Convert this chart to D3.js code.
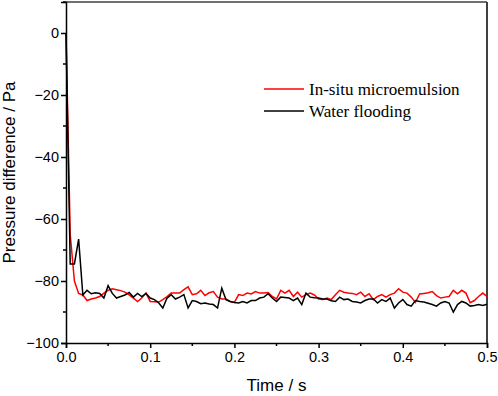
<!DOCTYPE html>
<html>
<head>
<meta charset="utf-8">
<script src="https://cdn.jsdelivr.net/npm/d3@7"></script>
<style>
  body { margin: 0; background: #fff; }
  svg { display: block; }
  .tick text { font-family: "Liberation Sans", Arial, sans-serif; font-size: 14.5px; fill: #000; }
</style>
</head>
<body>
<svg id="chart"></svg>
<script>
// Sample times (s)
const time = [
  0.000, 0.005, 0.010, 0.015, 0.020, 0.025, 0.030, 0.035, 0.040, 0.045,
  0.050, 0.055, 0.060, 0.065, 0.070, 0.075, 0.080, 0.085, 0.090, 0.095,
  0.100, 0.105, 0.110, 0.115, 0.120, 0.125, 0.130, 0.135, 0.140, 0.145,
  0.150, 0.155, 0.160, 0.165, 0.170, 0.175, 0.180, 0.185, 0.190, 0.195,
  0.200, 0.205, 0.210, 0.215, 0.220, 0.225, 0.230, 0.235, 0.240, 0.245,
  0.250, 0.255, 0.260, 0.265, 0.270, 0.275, 0.280, 0.285, 0.290, 0.295,
  0.300, 0.305, 0.310, 0.315, 0.320, 0.325, 0.330, 0.335, 0.340, 0.345,
  0.350, 0.355, 0.360, 0.365, 0.370, 0.375, 0.380, 0.385, 0.390, 0.395,
  0.400, 0.405, 0.410, 0.415, 0.420, 0.425, 0.430, 0.435, 0.440, 0.445,
  0.450, 0.455, 0.460, 0.465, 0.470, 0.475, 0.480, 0.485, 0.490, 0.495,
  0.500
];

// In-situ microemulsion (Pa)
const microemulsion = [
  0, -65, -80, -84, -84.5, -86.3, -85.8, -85.5, -85, -83.9,
  -83, -82.5, -82.8, -83.1, -83.6, -84.5, -85.5, -86.6, -85.5, -83.9,
  -86.6, -86.7, -86.8, -86, -85, -83.9, -83.9, -83.9, -82.8, -81.9,
  -84.4, -84.1, -83, -84.7, -83.8, -83.4, -85.2, -85.8, -85.8, -86.6,
  -86.9, -84.4, -84.7, -83.9, -84.2, -83.4, -83.9, -83.9, -83.7, -85,
  -85.8, -83, -83.9, -83, -85, -83.6, -85.2, -84.4, -83.9, -84.5,
  -85.8, -86, -85.5, -86, -84.4, -83, -83.6, -83.9, -84, -84.4,
  -83.6, -85, -84.1, -86, -85, -84.4, -85.2, -84.4, -83.9, -82.5,
  -83.6, -83.9, -85.2, -86.9, -84.2, -84, -83.8, -83.4, -84.7, -85.5,
  -85.2, -85, -83, -84.1, -83, -83.9, -87, -86.3, -85, -83.9,
  -85
];

// Water flooding (Pa)
const waterFlooding = [
  0, -74.5, -74.5, -66.5, -84.5, -83, -84.1, -83.8, -84, -85.5,
  -81.5, -84, -85.5, -85, -84.5, -83.7, -85.2, -84, -85, -84,
  -85.5, -86, -87, -88.7, -85.5, -84.4, -85.8, -85.2, -84.4, -88.7,
  -86.3, -86.6, -87.3, -87.1, -87.4, -87.6, -88.7, -82.3, -86, -86.6,
  -86.9, -87.1, -86.6, -87.1, -86.3, -86.3, -85.5, -85.2, -84.1, -85.5,
  -86.6, -85.2, -85.3, -85.5, -86.3, -85.5, -87.6, -83.9, -85.2, -85.4,
  -85.5, -85.8, -85.8, -86.4, -86.6, -85.2, -86, -85.8, -86.6, -86.8,
  -87.1, -86.3, -85.8, -85.8, -87.1, -86, -86.6, -85.5, -88.7, -87.1,
  -86, -87.6, -88.1, -86.3, -86.6, -86.8, -87.2, -87.6, -88.1, -87.1,
  -86.6, -87.1, -90, -87.6, -86.6, -87.1, -88.1, -87.9, -87.6, -87.9,
  -87.5
];

const seriesNames = ['In-situ microemulsion', 'Water flooding'];
const seriesColors = ['#ff0000', '#000000'];

const xTicks = [0, 0.1, 0.2, 0.3, 0.4, 0.5];
const xMinor = [0.05, 0.15, 0.25, 0.35, 0.45];
const yTicks = [-100, -80, -60, -40, -20, 0];
const yMinor = [-90, -70, -50, -30, -10, 10];

const width = 498;
const height = 396;
const margin = { top: 2, right: 11, bottom: 53, left: 66 };

const svg = d3.select('#chart')
    .attr('width', width)
    .attr('height', height);

const x = d3.scaleLinear()
    .domain([0, 0.5])
    .range([margin.left, width - margin.right]);

const y = d3.scaleLinear()
    .domain([-100, 10])
    .range([height - margin.bottom, margin.top]);

// Frame (top and right)
svg.append('line')
    .attr('x1', x(0)).attr('x2', x(0.5))
    .attr('y1', y(10)).attr('y2', y(10))
    .attr('stroke', '#404040').attr('stroke-width', 1.5);
svg.append('line')
    .attr('x1', x(0.5)).attr('x2', x(0.5))
    .attr('y1', y(10)).attr('y2', y(-100))
    .attr('stroke', '#404040').attr('stroke-width', 2);

// Series lines
const lineGen = vals => d3.line()
    .x((d, i) => x(time[i]))
    .y(d => y(d))(vals);

svg.append('path')
    .attr('d', lineGen(microemulsion))
    .attr('fill', 'none')
    .attr('stroke', seriesColors[0])
    .attr('stroke-width', 1.5);

svg.append('path')
    .attr('d', lineGen(waterFlooding))
    .attr('fill', 'none')
    .attr('stroke', seriesColors[1])
    .attr('stroke-width', 1.5);

// Axes
const xAxis = svg.append('g')
    .attr('transform', `translate(0,${y(-100)})`)
    .call(d3.axisBottom(x).tickValues(xTicks).tickFormat(d3.format('.1f')).tickSize(5).tickPadding(4));

xAxis.selectAll('.minor')
    .data(xMinor)
    .enter()
    .append('line')
    .attr('class', 'minor')
    .attr('x1', d => x(d)).attr('x2', d => x(d))
    .attr('y1', 0).attr('y2', 3)
    .attr('stroke', '#000').attr('stroke-width', 1.5);

const yAxis = svg.append('g')
    .attr('transform', `translate(${x(0)},0)`)
    .call(d3.axisLeft(y).tickValues(yTicks).tickFormat(d => d === 0 ? '0' : '\u2212' + Math.abs(d)).tickSize(5).tickPadding(2));

yAxis.selectAll('.minor')
    .data(yMinor)
    .enter()
    .append('line')
    .attr('class', 'minor')
    .attr('x1', 0).attr('x2', -3)
    .attr('y1', d => y(d)).attr('y2', d => y(d))
    .attr('stroke', '#000').attr('stroke-width', 1.5);

svg.selectAll('.domain, .tick line')
    .attr('stroke', '#000')
    .attr('stroke-width', 1.5);

// Axis titles
svg.append('text')
    .attr('x', (x(0) + x(0.5)) / 2)
    .attr('y', 391)
    .attr('text-anchor', 'middle')
    .style('font-family', '"Liberation Sans", Arial, sans-serif')
    .style('font-size', '17px')
    .text('Time / s');

svg.append('text')
    .attr('transform', `translate(15,${(y(10) + y(-100)) / 2}) rotate(-90)`)
    .attr('text-anchor', 'middle')
    .style('font-family', '"Liberation Sans", Arial, sans-serif')
    .style('font-size', '17px')
    .text('Pressure difference / Pa');

// Legend
const legend = svg.append('g')
    .attr('transform', 'translate(264,89)');

const legendItems = legend.selectAll('.legend-item')
    .data(seriesNames)
    .enter()
    .append('g')
    .attr('class', 'legend-item')
    .attr('transform', (d, i) => `translate(0,${i * 22})`);

legendItems.append('line')
    .attr('x1', 0).attr('x2', 40)
    .attr('y1', 0).attr('y2', 0)
    .attr('stroke', (d, i) => seriesColors[i])
    .attr('stroke-width', 1.5);

legendItems.append('text')
    .attr('x', 45)
    .attr('y', 6)
    .style('font-family', '"Liberation Serif", "Times New Roman", serif')
    .style('font-size', '17px')
    .text(d => d);
</script>
</body>
</html>
